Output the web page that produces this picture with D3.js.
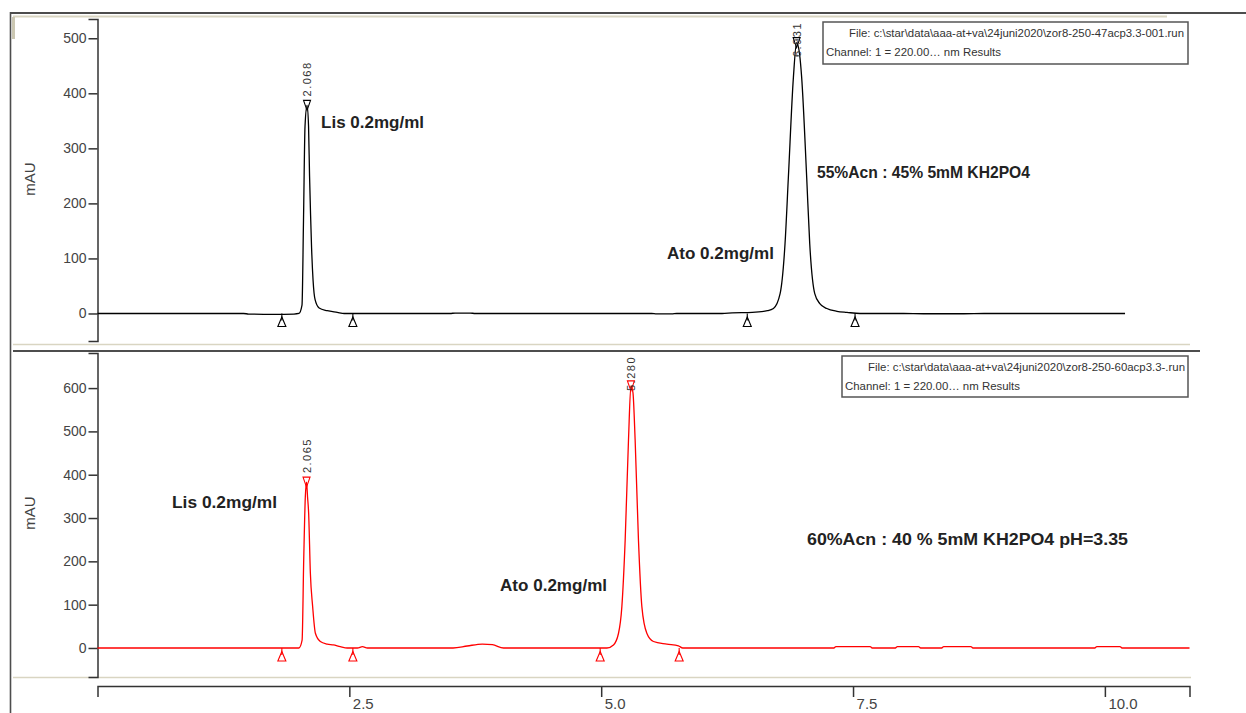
<!DOCTYPE html>
<html>
<head>
<meta charset="utf-8">
<script src="https://cdn.jsdelivr.net/npm/d3@7"></script>
<style>
  html, body { margin: 0; padding: 0; background: #fff; }
  svg { display: block; font-family: "Liberation Sans", Arial, sans-serif; }
</style>
</head>
<body>
<svg id="chart" width="1246" height="713"></svg>
<script>
// ---------------- DATA ----------------
// Top chromatogram (55%Acn), time [min], signal [mAU]
const topTrace = [
  [0,0],[1.45,0],[1.5,-1],[1.75,-1.5],[1.95,-1],[2.0,0],[2.03,15],[2.045,170],[2.06,340],[2.08,378],
  [2.095,340],[2.105,250],[2.115,180],[2.125,120],[2.14,60],[2.16,25],[2.2,10],[2.28,5],[2.38,2],[2.45,0],
  [3.5,0],[3.55,0.8],[3.7,0.8],[3.75,0],[5.5,0],[5.55,-0.8],[5.7,-0.8],[5.75,0],[6.2,0],[6.3,1],[6.5,2],
  [6.65,5],[6.71,9],[6.776,36],[6.825,127],[6.858,247],[6.908,429],[6.94,492],[6.97,470],[6.99,429],
  [7.04,247],[7.07,127],[7.12,36],[7.17,18],[7.24,9],[7.34,4],[7.44,2],[7.57,0],[8.0,0],[8.2,-0.5],
  [8.6,-0.5],[8.8,0],[10.2,0]
];
// Bottom chromatogram (60%Acn)
const bottomTrace = [
  [0,0],[2.0,0],[2.031,18],[2.047,203],[2.063,349],[2.075,383],[2.085,349],[2.096,311],[2.113,173],
  [2.136,95],[2.163,34],[2.212,15],[2.28,9],[2.341,7],[2.41,3],[2.48,0],[2.58,0],[2.63,3],[2.68,0],
  [3.53,0],[3.67,4.6],[3.82,9],[3.92,7.7],[4.03,0],[5.057,0],[5.122,7],[5.172,34],[5.205,95],[5.238,249],
  [5.271,480],[5.295,605],[5.315,590],[5.337,480],[5.37,249],[5.404,95],[5.453,34],[5.519,15],[5.652,9],
  [5.767,5],[5.81,0],[7.31,0],[7.33,3],[7.67,3],[7.69,0],[7.92,0],[7.94,3],[8.15,3],[8.17,0],[8.38,0],
  [8.4,3],[8.67,3],[8.69,0],[9.9,0],[9.92,3],[10.15,3],[10.17,0],[10.84,0]
];
// Peak apexes with retention-time labels
const topPeaks = [ {t:2.08, v:378, label:"2.068"}, {t:6.94, v:492, label:"6.931"} ];
const bottomPeaks = [ {t:2.075, v:383, label:"2.065"}, {t:5.295, v:605, label:"5.280"} ];
// Integration start/end markers (time)
const topBounds = [1.83, 2.535, 6.45, 7.52];
const bottomBounds = [1.83, 2.535, 4.99, 5.774];
// Tick values
const topYTicks = [0,100,200,300,400,500];
const bottomYTicks = [0,100,200,300,400,500,600];
const xTicks = [2.5,5.0,7.5,10.0];
// Annotations (text, time, mAU)
const topNotes = [
  {text:"Lis 0.2mg/ml", t:2.219, v:337},
  {text:"55%Acn : 45% 5mM KH2PO4", t:7.142, v:246},
  {text:"Ato 0.2mg/ml", t:5.653, v:99}
];
const bottomNotes = [
  {text:"Lis 0.2mg/ml", t:0.740, v:323},
  {text:"Ato 0.2mg/ml", t:3.996, v:131.5},
  {text:"60%Acn : 40 % 5mM KH2PO4 pH=3.35", t:7.043, v:238}
];
const topFile = "File: c:\\star\\data\\aaa-at+va\\24juni2020\\zor8-250-47acp3.3-001.run";
const bottomFile = "File: c:\\star\\data\\aaa-at+va\\24juni2020\\zor8-250-60acp3.3-.run";
const channelText = "Channel: 1 = 220.00\u2026 nm Results";

// ---------------- LAYOUT ----------------
const svg = d3.select("#chart");
const x = d3.scaleLinear().domain([0, 10.84]).range([97.5, 1189.5]);
const yTop = d3.scaleLinear().domain([-50, 535]).range([341, 19]);
const yBot = d3.scaleLinear().domain([-67, 681]).range([677, 353]);

const frame = "#4d4d4d", beige = "#d9d5c2", axisCol = "#333";
// rendered widths of the bold annotations, in the same order as the notes
const topNoteW = [103, 213, 107];
const bottomNoteW = [105, 107, 321];

// frame
svg.append("line").attr("x1",10).attr("x2",1246).attr("y1",13).attr("y2",13).attr("stroke",frame).attr("stroke-width",2);
svg.append("line").attr("x1",13).attr("x2",1167).attr("y1",16.5).attr("y2",16.5).attr("stroke",beige).attr("stroke-width",2);
svg.append("line").attr("x1",10.5).attr("x2",10.5).attr("y1",12).attr("y2",713).attr("stroke",frame).attr("stroke-width",1.6);
svg.append("rect").attr("x",12).attr("y",17).attr("width",3).attr("height",22).attr("fill","#cbc7b2");
svg.append("line").attr("x1",13).attr("x2",1190).attr("y1",344.5).attr("y2",344.5).attr("stroke",beige).attr("stroke-width",1.5);
svg.append("line").attr("x1",13).attr("x2",1200).attr("y1",351).attr("y2",351).attr("stroke",frame).attr("stroke-width",2);
svg.append("line").attr("x1",13).attr("x2",1191).attr("y1",677.5).attr("y2",677.5).attr("stroke",beige).attr("stroke-width",1.5);

function styleAxis(g){
  g.selectAll("path, line").attr("stroke", axisCol).attr("stroke-width", 1.5);
  g.selectAll("text").attr("fill", "#444").style("font-size","14px")
   .style("font-family","'Liberation Sans', Arial, sans-serif");
}

// y axes
svg.append("g").attr("transform","translate(97.5,0)")
  .call(d3.axisLeft(yTop).tickValues(topYTicks).tickSize(9).tickSizeOuter(9).tickPadding(2))
  .call(styleAxis);
svg.append("g").attr("transform","translate(97.5,0)")
  .call(d3.axisLeft(yBot).tickValues(bottomYTicks).tickSize(9).tickSizeOuter(9).tickPadding(2))
  .call(styleAxis);
// x axis
const xg = svg.append("g").attr("transform","translate(0,686)")
  .call(d3.axisBottom(x).tickValues(xTicks).tickSize(11).tickSizeOuter(11).tickFormat(d3.format(".1f")))
  .call(styleAxis);
xg.selectAll(".tick text").attr("text-anchor","start").attr("dx","3").attr("y",12).attr("dy","0.71em")
  .style("font-size","15px");

// mAU labels
[[29,179],[29,513]].forEach(([cx,cy])=>{
  svg.append("text").attr("transform",`translate(${cx},${cy}) rotate(-90)`)
    .attr("text-anchor","middle").attr("dominant-baseline","central")
    .attr("fill","#444").style("font-size","15px").text("mAU");
});

// traces
function drawPanel(trace, yS, color, peaks, bounds, notes, noteW, panelTop){
  const line = d3.line().x(d=>x(d[0])).y(d=>yS(d[1])).curve(d3.curveMonotoneX);
  svg.append("path").datum(trace).attr("d", line).attr("fill","none")
    .attr("stroke", color).attr("stroke-width",1.3).attr("stroke-linejoin","round");

  const y0 = yS(0);
  // integration markers
  bounds.forEach(t=>{
    const cx = x(t);
    svg.append("path").attr("d",`M${cx},${y0+3.5}L${cx-4},${y0+13}L${cx+4},${y0+13}Z`)
      .attr("fill","none").attr("stroke",color).attr("stroke-width",1.1);
    svg.append("line").attr("x1",cx).attr("x2",cx).attr("y1",y0).attr("y2",y0+7)
      .attr("stroke",color).attr("stroke-width",1.1);
  });
  // peak markers + labels
  peaks.forEach(p=>{
    const cx = x(p.t), cy = yS(p.v);
    svg.append("path").attr("d",`M${cx-3.5},${cy-5}L${cx+3.5},${cy-5}L${cx},${cy+5}Z`)
      .attr("fill","none").attr("stroke",color).attr("stroke-width",1.1);
    const len = 35;
    const bottom = Math.max(cy - 9, panelTop + 3 + len);
    svg.append("text").attr("transform",`translate(${cx},${bottom}) rotate(-90)`)
      .attr("text-anchor","start").attr("dominant-baseline","central")
      .attr("fill","#333").style("font-size","11px").style("letter-spacing","1.5px")
      .text(p.label);
  });
  // annotations
  notes.forEach((n,i)=>{
    svg.append("text").attr("x", x(n.t)).attr("y", yS(n.v))
      .attr("fill","#222").style("font-size","17px").style("font-weight","bold")
      .attr("textLength", noteW[i]).attr("lengthAdjust","spacingAndGlyphs")
      .text(n.text);
  });
}
drawPanel(topTrace, yTop, "#000", topPeaks, topBounds, topNotes, topNoteW, 19);
drawPanel(bottomTrace, yBot, "#ff0000", bottomPeaks, bottomBounds, bottomNotes, bottomNoteW, 353);

// file info boxes
function infoBox(bx, by, bw, bh, file, fileX, fileW, chanW){
  svg.append("rect").attr("x",bx).attr("y",by).attr("width",bw).attr("height",bh)
    .attr("fill","#fff").attr("stroke","#555").attr("stroke-width",1.5);
  svg.append("text").attr("x",fileX).attr("y",by+15).attr("fill","#333")
    .style("font-size","10px").attr("textLength",fileW).attr("lengthAdjust","spacingAndGlyphs").text(file);
  svg.append("text").attr("x",bx+3).attr("y",by+34).attr("fill","#333")
    .style("font-size","10px").attr("textLength",chanW).attr("lengthAdjust","spacingAndGlyphs").text(channelText);
}
infoBox(823, 22, 365, 42, topFile, 849, 335, 175);
infoBox(842, 356, 346, 41, bottomFile, 868, 317, 175);
</script>
</body>
</html>
